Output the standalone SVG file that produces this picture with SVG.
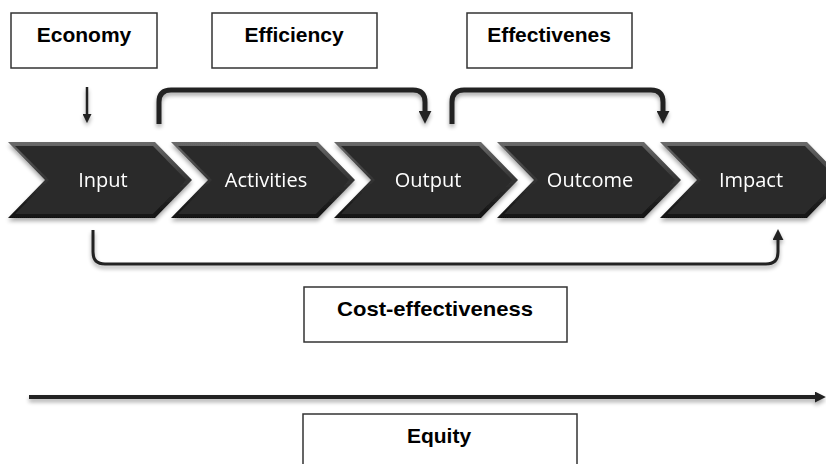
<svg xmlns="http://www.w3.org/2000/svg" width="826" height="464" viewBox="0 0 826 464">
  <style>
    .box { fill: #ffffff; stroke: #333333; stroke-width: 1.5; }
    .lbl { font-family: "Liberation Sans", Arial, sans-serif; font-weight: bold; font-size: 21px; fill: #000000; text-anchor: middle; }
    .chv { font-family: "Open Sans", "Liberation Sans", sans-serif; font-size: 20px; fill: #ffffff; text-anchor: middle; }
    .con { fill: none; stroke: #222222; stroke-linecap: butt; }
  </style>
  <defs>
    <linearGradient id="bevel" x1="0" y1="0" x2="0" y2="1">
      <stop offset="0" stop-color="#6a6a6a"/>
      <stop offset="0.5" stop-color="#333333"/>
      <stop offset="1" stop-color="#111111"/>
    </linearGradient>
    <filter id="sh" x="-10%" y="-20%" width="120%" height="150%">
      <feGaussianBlur in="SourceAlpha" stdDeviation="2"/>
      <feOffset dx="0" dy="3" result="b"/>
      <feComponentTransfer><feFuncA type="linear" slope="0.35"/></feComponentTransfer>
      <feMerge><feMergeNode/><feMergeNode in="SourceGraphic"/></feMerge>
    </filter>
    <marker id="headBig" viewBox="0 0 10 10" refX="1" refY="5" markerUnits="userSpaceOnUse" markerWidth="13" markerHeight="13" orient="auto">
      <path d="M0,0 L10,5 L0,10 z" fill="#222222"/>
    </marker>
    <marker id="headMid" viewBox="0 0 10 10" refX="1" refY="5" markerUnits="userSpaceOnUse" markerWidth="11" markerHeight="11" orient="auto">
      <path d="M0,0 L10,5 L0,10 z" fill="#222222"/>
    </marker>
    <marker id="headSmall" viewBox="0 0 10 10" refX="1" refY="5" markerUnits="userSpaceOnUse" markerWidth="9" markerHeight="9" orient="auto">
      <path d="M0,0 L10,5 L0,10 z" fill="#222222"/>
    </marker>
    <g id="chevShape">
      <polygon points="0,142 147,142 184,180 147,218 0,218 37,180" fill="url(#bevel)"/>
      <polygon points="7,146 145,146 178,180 145,214 7,214 41,180" fill="#2a2a2a"/>
    </g>
  </defs>

  <!-- label boxes -->
  <g id="economy">
    <rect class="box" x="11" y="13" width="146" height="55"/>
    <text class="lbl" x="84" y="42">Economy</text>
  </g>
  <g id="efficiency">
    <rect class="box" x="212" y="13" width="165" height="55"/>
    <text class="lbl" x="294" y="42">Efficiency</text>
  </g>
  <g id="effectiveness">
    <rect class="box" x="467" y="13" width="165" height="55"/>
    <text class="lbl" x="549" y="42">Effectivenes</text>
  </g>
  <g id="cost-effectiveness">
    <rect class="box" x="304" y="287" width="263" height="55"/>
    <text class="lbl" x="435" y="316" textLength="196" lengthAdjust="spacingAndGlyphs">Cost-effectiveness</text>
  </g>
  <g id="equity">
    <rect class="box" x="303" y="414" width="274" height="60"/>
    <text class="lbl" x="439" y="443">Equity</text>
  </g>

  <!-- chevrons -->
  <g id="input" filter="url(#sh)">
    <use href="#chevShape" x="8"/>
    <text class="chv" x="103" y="187">Input</text>
  </g>
  <g id="activities" filter="url(#sh)">
    <use href="#chevShape" x="171"/>
    <text class="chv" x="266" y="187">Activities</text>
  </g>
  <g id="output" filter="url(#sh)">
    <use href="#chevShape" x="334"/>
    <text class="chv" x="428" y="187">Output</text>
  </g>
  <g id="outcome" filter="url(#sh)">
    <use href="#chevShape" x="497"/>
    <text class="chv" x="590" y="187">Outcome</text>
  </g>
  <g id="impact" filter="url(#sh)">
    <use href="#chevShape" x="660"/>
    <text class="chv" x="751" y="187">Impact</text>
  </g>

  <!-- connectors -->
  <g id="connectors" filter="url(#sh)">
    <path class="con" stroke-width="2.5" d="M87,87 V115" marker-end="url(#headSmall)"/>
    <path class="con" stroke-width="5" d="M159,124 V102 Q159,90 171,90 H413 Q425,90 425,102 V112" marker-end="url(#headBig)"/>
    <path class="con" stroke-width="5" d="M452,124 V102 Q452,90 464,90 H651 Q663,90 663,102 V112" marker-end="url(#headBig)"/>
    <path class="con" stroke-width="3" d="M93,230 V252 Q93,264 105,264 H766 Q778,264 778,252 V239" marker-end="url(#headMid)"/>
    <path class="con" stroke-width="4" stroke="#000000" d="M29,397 H816" marker-end="url(#headMid)"/>
  </g>
</svg>
